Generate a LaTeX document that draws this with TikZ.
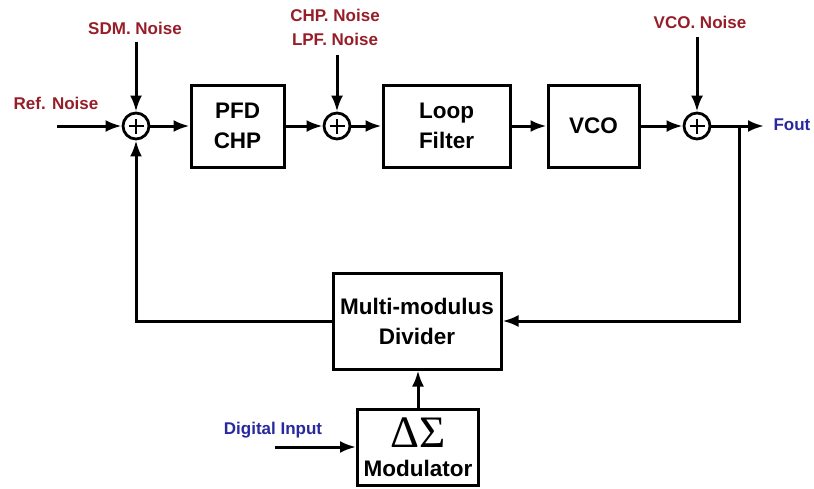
\documentclass[tikz,border=0pt]{standalone}
\usepackage{fontspec}
\setmainfont{Liberation Sans}
\newfontfamily\greekserif{Liberation Serif}
\usetikzlibrary{arrows.meta}
\definecolor{noisered}{RGB}{150,30,40}
\definecolor{inblue}{RGB}{40,40,160}
\begin{document}
\begin{tikzpicture}[x=1pt,y=-1pt, line width=3pt, >={Latex[length=16pt,width=12pt]},
 blk/.style={draw, line width=3pt, align=center, font=\fontsize{22.5}{30}\selectfont\bfseries, inner sep=0pt},
 sum/.style={draw, circle, minimum size=26pt, inner sep=0pt, line width=2.8pt,
   path picture={\draw[line width=2.2pt] ([xshift=-7.5pt]path picture bounding box.center) -- ([xshift=7.5pt]path picture bounding box.center);
                 \draw[line width=2.2pt] ([yshift=-7.5pt]path picture bounding box.center) -- ([yshift=7.5pt]path picture bounding box.center);}},
 lbl/.style={font=\fontsize{17}{24}\selectfont\bfseries, text=noisered, inner sep=0pt, align=center}]
\useasboundingbox (0,0) rectangle (814,488);
% summing junctions
\node[sum] (s1) at (136,126) {};
\node[sum] (s2) at (337,126) {};
\node[sum] (s3) at (697,126) {};
% blocks
\node[blk, minimum width=93pt, minimum height=82pt] (pfd) at (237.5,126) {PFD\\CHP};
\node[blk, minimum width=127pt, minimum height=82pt] (lf) at (446.5,126) {Loop\\Filter};
\node[blk, minimum width=91pt, minimum height=82pt] (vco) at (593.5,126) {VCO};
\node[blk, minimum width=168pt, minimum height=96pt] (div) at (417,321) {Multi-modulus\\Divider};
\node[draw, line width=3pt, minimum width=121pt, minimum height=76pt] (dsm) at (418,447) {};
\node[inner sep=0pt, font=\greekserif\fontsize{45}{45}\selectfont] (dsmg) at (418,433) {ΔΣ};
\node[inner sep=0pt, font=\fontsize{22.5}{24}\selectfont\bfseries] (dsmt) at (418,468) {Modulator};
% labels
\node[lbl] (ref) at (56,103) {Ref. Noise};
\node[lbl] (sdm) at (135,28) {SDM. Noise};
\node[lbl] (chp) at (335,27) {CHP. Noise\\LPF. Noise};
\node[lbl] (vcon) at (700,22) {VCO. Noise};
\node[lbl, text=inblue, anchor=west] (foutl) at (772,125) {Fout};
\node[lbl, text=inblue] (dig) at (273,430) {Digital Input};
% free ends
\coordinate (refin) at (57,126);
\coordinate (sdmin) at (136,42);
\coordinate (chpin) at (337,55);
\coordinate (vcoin) at (697,37);
\coordinate (fout) at (764,126);
\coordinate (br) at (739,126);
\coordinate (digin) at (275,447);
% connectors
\draw[->] (refin) -- (s1);
\draw[->] (sdmin) -- (s1);
\draw[->] (chpin) -- (s2);
\draw[->] (vcoin) -- (s3);
\draw[->] (s1) -- (pfd);
\draw[->] (pfd) -- (s2);
\draw[->] (s2) -- (lf);
\draw[->] (lf) -- (vco);
\draw[->] (vco) -- (s3);
\draw[->] (s3) -- (fout);
\draw[->] (br) |- (div.east);
\draw[->] (div.west) -| (s1.south);
\draw[->] (dsm.north) -- (dsm.north |- div.south);
\draw[->] (digin) -- (dsm.west);
\end{tikzpicture}
\end{document}
